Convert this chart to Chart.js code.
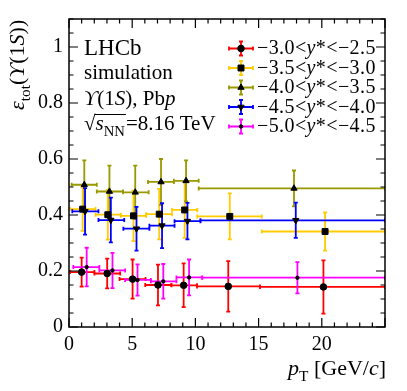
<!DOCTYPE html>
<html>
<head>
<meta charset="utf-8">
<script src="https://cdn.jsdelivr.net/npm/chart.js@4.4.1/dist/chart.umd.min.js"></script>
<style>
html, body { margin: 0; padding: 0; background: #fff; overflow: hidden; }
canvas { display: block; }
</style>
</head>
<body>
<canvas id="effChart" width="407" height="391"></canvas>
<script>
// tick labels
const xTicks = [0, 5, 10, 15, 20];
const yTicks = [0, 0.2, 0.4, 0.6, 0.8, 1];

// -3.0<y*<-2.5
const redX   = [1.0, 3.02, 5.03, 7.04, 9.07, 12.6, 20.13];
const redXLo = [0.08, 2.01, 4.0, 6.03, 8.1, 10.13, 15.1];
const redXHi = [2.01, 4.05, 6.06, 8.1, 10.13, 15.1, 25];
const redEff = [0.196, 0.191, 0.171, 0.150, 0.149, 0.145, 0.143];
const redErr = [0.052, 0.053, 0.070, 0.073, 0.078, 0.090, 0.095];

// -3.5<y*<-3.0
const yelX   = [1.08, 3.07, 5.1, 7.14, 9.15, 12.72, 20.26];
const yelXLo = [0.08, 2.1, 4.1, 6.1, 8.15, 10.15, 15.25];
const yelXHi = [2.1, 4.1, 6.1, 8.15, 10.15, 15.25, 25];
const yelEff = [0.421, 0.401, 0.397, 0.403, 0.418, 0.395, 0.341];
const yelErr = [0.078, 0.089, 0.090, 0.090, 0.100, 0.082, 0.068];

// -4.0<y*<-3.5
const oliX   = [1.21, 3.2, 5.24, 7.28, 9.26, 17.8];
const oliXLo = [0.21, 2.2, 4.27, 6.25, 8.3, 10.26];
const oliXHi = [2.2, 4.27, 6.3, 8.3, 10.26, 25];
const oliEff = [0.508, 0.484, 0.481, 0.518, 0.522, 0.495];
const oliErr = [0.087, 0.092, 0.095, 0.082, 0.073, 0.064];

// -4.5<y*<-4.0
const bluX   = [1.27, 3.31, 5.34, 7.36, 9.37, 17.94];
const bluXLo = [0.26, 2.33, 4.3, 6.36, 8.35, 10.4];
const bluXHi = [2.33, 4.37, 6.36, 8.35, 10.4, 25];
const bluEff = [0.413, 0.382, 0.351, 0.362, 0.378, 0.381];
const bluErr = [0.083, 0.080, 0.078, 0.080, 0.065, 0.063];

// -5.0<y*<-4.5
const magX   = [1.4, 3.44, 5.42, 7.46, 9.5, 18.07];
const magXLo = [0.34, 2.4, 4.44, 6.48, 8.5, 10.54];
const magXHi = [2.4, 4.44, 6.48, 8.5, 10.54, 25];
const magEff = [0.214, 0.202, 0.168, 0.163, 0.177, 0.176];
const magErr = [0.069, 0.063, 0.056, 0.062, 0.064, 0.056];

const serif = '"Liberation Serif", "DejaVu Serif", serif';

const series = [
    { label: ['−3.0<', 'y', '*<−2.5'], color: '#ff0000', style: 'circle',   radius: 3.3, rot: 0,   x: redX, lo: redXLo, hi: redXHi, y: redEff, err: redErr },
    { label: ['−3.5<', 'y', '*<−3.0'], color: '#ffcc00', style: 'rect',     radius: 4.2, rot: 0,   x: yelX, lo: yelXLo, hi: yelXHi, y: yelEff, err: yelErr },
    { label: ['−4.0<', 'y', '*<−3.5'], color: '#999900', style: 'triangle', radius: 3.6, rot: 0,   x: oliX, lo: oliXLo, hi: oliXHi, y: oliEff, err: oliErr },
    { label: ['−4.5<', 'y', '*<−4.0'], color: '#0000ff', style: 'triangle', radius: 3.6, rot: 180, x: bluX, lo: bluXLo, hi: bluXHi, y: bluEff, err: bluErr },
    { label: ['−5.0<', 'y', '*<−4.5'], color: '#ff00ff', style: 'circle',   radius: 1.7, rot: 0,   x: magX, lo: magXLo, hi: magXHi, y: magEff, err: magErr }
];

// mixed text: parts are [text, flags] with flags 'i' italic, 's' subscript
function drawRich(ctx, x, y, parts, size) {
    let cx = x;
    parts.forEach(([t, f]) => {
        const sub = f.includes('s');
        const sz = sub ? size * 0.7 : size;
        ctx.font = (f.includes('i') ? 'italic ' : '') + sz + 'px ' + serif;
        ctx.fillText(t, cx, sub ? y + size * 0.28 : y);
        cx += ctx.measureText(t).width;
    });
    return cx;
}

function richWidth(ctx, parts, size) {
    let w = 0;
    parts.forEach(([t, f]) => {
        const sz = f.includes('s') ? size * 0.7 : size;
        ctx.font = (f.includes('i') ? 'italic ' : '') + sz + 'px ' + serif;
        w += ctx.measureText(t).width;
    });
    return w;
}

function errorBar(ctx, x1, y1, x2, y2, cap) {
    ctx.beginPath();
    ctx.moveTo(x1, y1);
    ctx.lineTo(x2, y2);
    if (x1 === x2) {
        ctx.moveTo(x1 - cap, y1); ctx.lineTo(x1 + cap, y1);
        ctx.moveTo(x2 - cap, y2); ctx.lineTo(x2 + cap, y2);
    } else {
        ctx.moveTo(x1, y1 - cap); ctx.lineTo(x1, y1 + cap);
        ctx.moveTo(x2, y2 - cap); ctx.lineTo(x2, y2 + cap);
    }
    ctx.stroke();
}

const errorBarsPlugin = {
    id: 'errorBars',
    beforeDatasetsDraw(chart) {
        const { ctx, chartArea: a, scales: { x, y } } = chart;
        ctx.save();
        ctx.beginPath();
        ctx.rect(a.left, a.top, a.right - a.left, a.bottom - a.top);
        ctx.clip();
        ctx.lineWidth = 1.8;
        series.forEach(s => {
            ctx.strokeStyle = s.color;
            s.x.forEach((xv, i) => {
                const px = x.getPixelForValue(xv);
                const py = y.getPixelForValue(s.y[i]);
                errorBar(ctx, x.getPixelForValue(s.lo[i]), py, x.getPixelForValue(s.hi[i]), py, 2);
                errorBar(ctx, px, y.getPixelForValue(s.y[i] + s.err[i]), px, y.getPixelForValue(s.y[i] - s.err[i]), 2);
            });
        });
        ctx.restore();
    }
};

const framePlugin = {
    id: 'frame',
    afterDraw(chart) {
        const { ctx, chartArea: a, scales: { x, y } } = chart;
        ctx.save();
        ctx.strokeStyle = '#000';
        ctx.lineWidth = 1.5;
        ctx.strokeRect(a.left, a.top, a.right - a.left, a.bottom - a.top);

        // inward ticks on all four sides
        ctx.lineWidth = 1.2;
        ctx.beginPath();
        for (let v = 0; v <= 25; v += 1) {
            const px = x.getPixelForValue(v);
            const len = v % 5 === 0 ? 9 : 4.5;
            ctx.moveTo(px, a.bottom); ctx.lineTo(px, a.bottom - len);
            ctx.moveTo(px, a.top); ctx.lineTo(px, a.top + len);
        }
        for (let k = 0; k <= 22; k++) {
            const py = y.getPixelForValue(k * 0.05);
            const len = k % 4 === 0 ? 9 : 4.5;
            ctx.moveTo(a.left, py); ctx.lineTo(a.left + len, py);
            ctx.moveTo(a.right, py); ctx.lineTo(a.right - len, py);
        }
        ctx.stroke();

        ctx.fillStyle = '#000';
        ctx.textBaseline = 'alphabetic';
        ctx.textAlign = 'left';

        // LHCb label block
        drawRich(ctx, 84, 55, [['LHCb', '']], 23);
        drawRich(ctx, 84, 79, [['simulation', '']], 21);
        drawRich(ctx, 84, 105, [['ϒ', 'i'], ['(1', ''], ['S', 'i'], ['), Pb', ''], ['p', 'i']], 21);
        ctx.font = '21px ' + serif;
        ctx.fillText('√', 84, 130);
        const sx = 84 + ctx.measureText('√').width;
        const ex = drawRich(ctx, sx, 130, [['s', 'i'], ['NN', 's']], 21);
        ctx.lineWidth = 1;
        ctx.beginPath();
        ctx.moveTo(sx - 1, 114.5); ctx.lineTo(ex + 1, 114.5);
        ctx.stroke();
        drawRich(ctx, ex + 1, 130, [['=8.16 TeV', '']], 21);

        // legend
        series.forEach((s, i) => {
            const cy = 48.5 + i * 19.5;
            ctx.strokeStyle = s.color;
            ctx.lineWidth = 1.8;
            errorBar(ctx, 229, cy, 253, cy, 2);
            errorBar(ctx, 241, cy - 7, 241, cy + 7, 2);
            ctx.fillStyle = '#000';
            ctx.strokeStyle = '#000';
            ctx.lineWidth = 1;
            Chart.helpers.drawPoint(ctx, { pointStyle: s.style, radius: s.radius, rotation: s.rot, borderWidth: 1 }, 241, cy);
            ctx.fillStyle = '#000';
            ctx.letterSpacing = '0.4px';
            drawRich(ctx, 257, cy + 5.5, [[s.label[0], ''], [s.label[1], 'i'], [s.label[2], '']], 20);
            ctx.letterSpacing = '0px';
        });

        // x axis title, right aligned to the frame
        const xt = [['p', 'i'], ['T', 's'], [' [GeV/', ''], ['c', 'i'], [']', '']];
        drawRich(ctx, a.right + 1 - richWidth(ctx, xt, 22), 375, xt, 22);

        // y axis title, rotated
        ctx.translate(24, 110);
        ctx.rotate(-Math.PI / 2);
        drawRich(ctx, 0, 0, [['ε', 'i'], ['tot', 's'], ['(', ''], ['ϒ', 'i'], ['(1', ''], ['S', 'i'], ['))', '']], 22);
        ctx.restore();
    }
};

const ctx = document.getElementById('effChart').getContext('2d');

new Chart(ctx, {
    type: 'scatter',
    data: {
        datasets: series.map(s => ({
            data: s.x.map((xv, i) => ({ x: xv, y: s.y[i] })),
            pointStyle: s.style,
            pointRadius: s.radius,
            pointRotation: s.rot,
            pointBackgroundColor: '#000',
            pointBorderColor: '#000',
            pointBorderWidth: 1,
            showLine: false
        }))
    },
    options: {
        responsive: false,
        animation: false,
        devicePixelRatio: 1,
        layout: { padding: { top: 19, right: 22, left: 0, bottom: 0 } },
        plugins: { legend: { display: false }, tooltip: { enabled: false } },
        scales: {
            x: {
                type: 'linear',
                min: 0,
                max: 25,
                grid: { display: false, drawTicks: false },
                border: { display: false },
                afterBuildTicks: scale => { scale.ticks = xTicks.map(v => ({ value: v })); },
                afterFit: scale => { scale.height = 64; },
                ticks: {
                    color: '#000',
                    padding: 6,
                    maxRotation: 0,
                    font: { family: serif, size: 20 }
                }
            },
            y: {
                type: 'linear',
                min: 0,
                max: 1.1,
                grid: { display: false, drawTicks: false },
                border: { display: false },
                afterBuildTicks: scale => { scale.ticks = yTicks.map(v => ({ value: v })); },
                afterFit: scale => { scale.width = 69; },
                ticks: {
                    color: '#000',
                    padding: 6,
                    font: { family: serif, size: 20 },
                    callback: v => (v === 0 || v === 1) ? String(v) : v.toFixed(1)
                }
            }
        }
    },
    plugins: [errorBarsPlugin, framePlugin]
});
</script>
</body>
</html>
